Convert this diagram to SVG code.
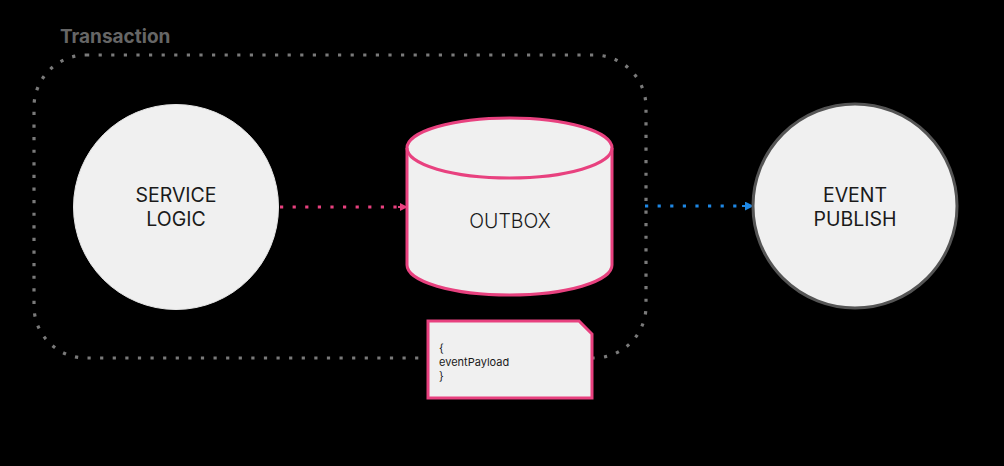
<svg xmlns="http://www.w3.org/2000/svg" width="1004" height="466" viewBox="0 0 1004 466">
<defs>
<style>
.lbl{font-family:Inter,Roboto,"Liberation Sans",sans-serif;font-size:19.5px;fill:#1a1a1a;text-anchor:middle}
.dots{fill:none;stroke-width:3.2;stroke-linecap:butt}
</style>
<marker id="ap" viewBox="0 0 10 10" refX="9" refY="5" markerWidth="8" markerHeight="8" markerUnits="userSpaceOnUse" orient="auto"><path d="M0,0L10,5L0,10z" fill="#e8417f"/></marker>
<marker id="ab" viewBox="0 0 10 10" refX="9" refY="5" markerWidth="9" markerHeight="9" markerUnits="userSpaceOnUse" orient="auto"><path d="M0,0L10,5L0,10z" fill="#1e88e5"/></marker>
</defs>
<rect width="1004" height="466" fill="#000"/>
<g id="transaction">
<rect x="34" y="55" width="612" height="303" rx="52" class="dots" stroke="#7a7a7a" stroke-dasharray="3.2 9.4"/>
<text x="60" y="43" font-family="Inter,Roboto,'Liberation Sans',sans-serif" font-size="19" font-weight="bold" fill="#666">Transaction</text>
</g>
<g id="connectors">
<line x1="280" y1="207" x2="398" y2="207" class="dots" stroke="#e8417f" stroke-dasharray="3.2 9.4"/>
<line x1="398" y1="207" x2="407" y2="207" stroke="#e8417f" stroke-width="2" marker-end="url(#ap)"/>
<line x1="645" y1="206" x2="742" y2="206" class="dots" stroke="#1e88e5" stroke-dasharray="3.2 9.4"/>
<line x1="742" y1="206" x2="753" y2="206" stroke="#1e88e5" stroke-width="2" marker-end="url(#ab)"/>
</g>
<g id="service-logic">
<circle cx="176" cy="207" r="102.5" fill="#f0f0f0" stroke="#e6e6e6" stroke-width="1"/>
<text class="lbl" x="176" y="202">SERVICE</text>
<text class="lbl" x="176" y="226">LOGIC</text>
</g>
<g id="outbox">
<path d="M407,148 L407,265 A102.5,30 0 0 0 612,265 L612,148 A102.5,30 0 0 0 407,148 Z" fill="#f0f0f0" stroke="#e8417f" stroke-width="3"/>
<path d="M407,148 A102.5,30 0 0 0 612,148" fill="none" stroke="#e8417f" stroke-width="3"/>
<text class="lbl" x="510" y="228" font-weight="300">OUTBOX</text>
</g>
<g id="event-publish">
<circle cx="855" cy="206" r="102" fill="#f0f0f0" stroke="#555" stroke-width="3"/>
<text class="lbl" x="855" y="202">EVENT</text>
<text class="lbl" x="855" y="226">PUBLISH</text>
</g>
<g id="event-payload">
<path d="M428,321 L579,321 L592,334 L592,398 L428,398 Z" fill="#f0f0f0" stroke="#e8417f" stroke-width="3"/>
<g font-family="Inter,Roboto,'Liberation Sans',sans-serif" font-size="11" fill="#1a1a1a">
<text x="439" y="352">{</text>
<text x="439" y="366">eventPayload</text>
<text x="439" y="380">}</text>
</g>
</g>
</svg>
